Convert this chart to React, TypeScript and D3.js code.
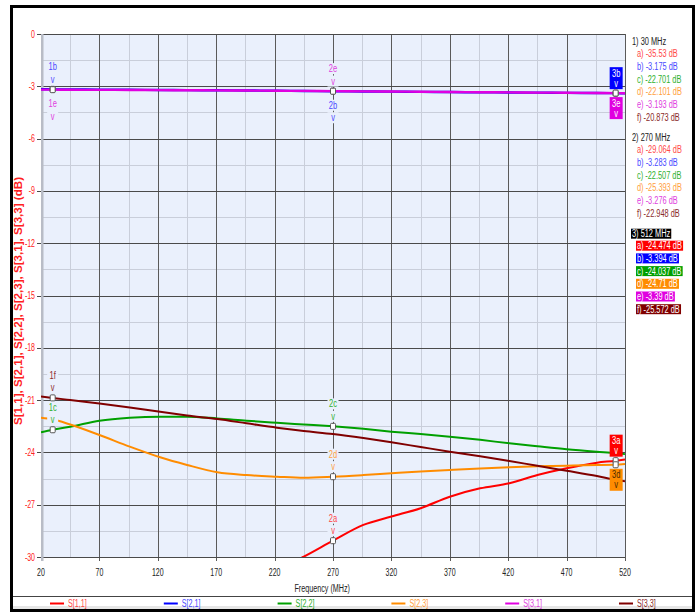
import { useEffect, useRef } from 'react';
import * as d3 from 'd3';

// frequency points (MHz)
const freqs = [20, 30, 45, 70, 96, 122, 145, 171, 196, 222, 245, 270, 296, 320, 345, 370, 396, 421, 445, 470, 496, 512, 520];

const s11 = [-36.0, -35.53, -35.0, -34.3, -33.6, -33.0, -32.4, -31.8, -31.2, -30.7, -29.98, -29.064, -28.16, -27.68, -27.2, -26.54, -26.06, -25.77, -25.3, -24.91, -24.59, -24.474, -24.4];
const s21 = [-3.17, -3.175, -3.18, -3.19, -3.2, -3.21, -3.22, -3.23, -3.24, -3.255, -3.27, -3.283, -3.295, -3.305, -3.32, -3.33, -3.345, -3.355, -3.365, -3.375, -3.386, -3.394, -3.4];
const s22 = [-22.85, -22.701, -22.53, -22.18, -22.01, -21.95, -21.95, -22.05, -22.18, -22.3, -22.4, -22.507, -22.65, -22.81, -22.95, -23.1, -23.28, -23.48, -23.65, -23.82, -23.96, -24.037, -24.1];
const s23 = [-22.01, -22.101, -22.4, -23.0, -23.67, -24.28, -24.72, -25.14, -25.3, -25.39, -25.45, -25.393, -25.3, -25.2, -25.1, -25.01, -24.92, -24.85, -24.8, -24.76, -24.72, -24.71, -24.66];
const s31 = [-3.19, -3.193, -3.2, -3.205, -3.21, -3.22, -3.225, -3.235, -3.245, -3.255, -3.265, -3.276, -3.29, -3.3, -3.31, -3.325, -3.34, -3.35, -3.36, -3.37, -3.383, -3.39, -3.395];
const s33 = [-20.8, -20.873, -21.0, -21.19, -21.42, -21.67, -21.88, -22.09, -22.33, -22.58, -22.77, -22.948, -23.18, -23.42, -23.69, -23.96, -24.22, -24.49, -24.77, -25.05, -25.35, -25.572, -25.66];

const seriesNames = ['S[1,1]', 'S[2,1]', 'S[2,2]', 'S[2,3]', 'S[3,1]', 'S[3,3]'];
const seriesKeys = ['a', 'b', 'c', 'd', 'e', 'f'];
const seriesValues = [s11, s21, s22, s23, s31, s33];

const xTicks = [20, 70, 120, 170, 220, 270, 320, 370, 420, 470, 520];
const yTicks = [0, -3, -6, -9, -12, -15, -18, -21, -24, -27, -30];

const markerFreqs = [30, 270, 512];
// which traces carry a label at each marker, and on which side
const marker1Labels = [['b', 'up'], ['e', 'down'], ['f', 'up'], ['c', 'up']];
const marker2Labels = [['e', 'up'], ['b', 'down'], ['c', 'up'], ['d', 'up'], ['a', 'up']];
const marker3Labels = [['b', 'up'], ['e', 'down'], ['a', 'up'], ['d', 'down']];

const lineColors = ['#ff0000', '#0000ff', '#00a000', '#ff8c00', '#e000e0', '#800000'];
const textColors = ['#ff4848', '#4a4aff', '#30b030', '#ffa040', '#e040e0', '#8a2a2a'];

const FONT = '"Liberation Sans", Arial, sans-serif';
const PLOT_BG = '#eaf0fc';

// squeeze text horizontally to mimic the condensed font of the original
function narrow(sel: d3.Selection<SVGTextElement, any, any, any>, ratio = 0.74) {
  sel.each(function () {
    const w = this.getComputedTextLength();
    d3.select(this).attr('textLength', w * ratio).attr('lengthAdjust', 'spacingAndGlyphs');
  });
  return sel;
}

export default function App() {
  const svgRef = useRef<SVGSVGElement>(null);

  useEffect(() => {
    if (!svgRef.current) return;
    const root = d3.select(svgRef.current);
    root.selectAll('*').remove();

    const left = 41;
    const right = 625;
    const top = 34;
    const bottom = 557;

    const x = d3.scaleLinear().domain([20, 520]).range([left, right]);
    const y = d3.scaleLinear().domain([0, -30]).range([top, bottom]);

    // frame
    root.append('rect').attr('width', 699).attr('height', 616).attr('fill', '#fff');
    root.append('rect').attr('x', 12).attr('y', 606).attr('width', 681).attr('height', 4).attr('fill', '#e6e6e6');
    root.append('line').attr('x1', 12).attr('x2', 693).attr('y1', 596.5).attr('y2', 596.5).attr('stroke', '#444');
    root
      .append('rect')
      .attr('x', 11.5)
      .attr('y', 6.5)
      .attr('width', 682)
      .attr('height', 604)
      .attr('fill', 'none')
      .attr('stroke', '#000')
      .attr('stroke-width', 3);

    // plot area
    root
      .append('rect')
      .attr('x', left)
      .attr('y', top)
      .attr('width', right - left)
      .attr('height', bottom - top)
      .attr('fill', PLOT_BG);

    const grid = root.append('g');
    grid
      .selectAll('.vminor')
      .data(d3.range(45, 520, 50))
      .join('line')
      .attr('x1', (d) => Math.round(x(d)) + 0.5)
      .attr('x2', (d) => Math.round(x(d)) + 0.5)
      .attr('y1', top)
      .attr('y2', bottom)
      .attr('stroke', '#c9ceda');
    grid
      .selectAll('.hminor')
      .data(d3.range(-1.5, -30, -3))
      .join('line')
      .attr('x1', left)
      .attr('x2', right)
      .attr('y1', (d) => Math.round(y(d)) + 0.5)
      .attr('y2', (d) => Math.round(y(d)) + 0.5)
      .attr('stroke', '#c9ceda');
    grid
      .selectAll('.vmajor')
      .data(xTicks.slice(1))
      .join('line')
      .attr('x1', (d) => Math.round(x(d)) + 0.5)
      .attr('x2', (d) => Math.round(x(d)) + 0.5)
      .attr('y1', top)
      .attr('y2', bottom + 4)
      .attr('stroke', '#5a5a5a');
    grid
      .selectAll('.hmajor')
      .data(yTicks)
      .join('line')
      .attr('x1', left - 4)
      .attr('x2', right)
      .attr('y1', (d) => Math.round(y(d)) + 0.5)
      .attr('y2', (d) => Math.round(y(d)) + 0.5)
      .attr('stroke', '#4a4a4a');
    root
      .append('rect')
      .attr('x', left)
      .attr('y', top)
      .attr('width', 2.5)
      .attr('height', bottom - top + 4)
      .attr('fill', '#b8bcc6');

    // axis labels
    narrow(
      root
        .append('g')
        .selectAll('text')
        .data(yTicks)
        .join('text')
        .attr('x', 35)
        .attr('y', (d) => y(d) + 3.5)
        .attr('text-anchor', 'end')
        .attr('font-family', FONT)
        .attr('font-size', 10)
        .attr('fill', '#ff2020')
        .text((d) => String(d)),
      0.7,
    );
    narrow(
      root
        .append('g')
        .selectAll('text')
        .data(xTicks)
        .join('text')
        .attr('x', (d) => x(d))
        .attr('y', 576)
        .attr('text-anchor', 'middle')
        .attr('font-family', FONT)
        .attr('font-size', 10)
        .attr('fill', '#222')
        .text((d) => String(d)),
      0.7,
    );
    narrow(
      root
        .append('text')
        .attr('x', 350)
        .attr('y', 592)
        .attr('text-anchor', 'end')
        .attr('font-family', FONT)
        .attr('font-size', 10)
        .attr('fill', '#222')
        .text('Frequency (MHz)'),
      0.72,
    );
    root
      .append('text')
      .attr('transform', 'translate(22, 301) rotate(-90)')
      .attr('text-anchor', 'middle')
      .attr('font-family', FONT)
      .attr('font-size', 10.5)
      .attr('font-weight', 'bold')
      .attr('fill', '#ff2020')
      .attr('textLength', 248)
      .attr('lengthAdjust', 'spacingAndGlyphs')
      .text('S[1,1], S[2,1], S[2,2], S[2,3], S[3,1], S[3,3] (dB)');

    // traces
    root
      .append('clipPath')
      .attr('id', 'plotclip')
      .append('rect')
      .attr('x', left)
      .attr('y', top)
      .attr('width', right - left)
      .attr('height', bottom - top);
    const lineGen = d3
      .line<number>()
      .x((_, i) => x(freqs[i]))
      .y((d) => y(d))
      .curve(d3.curveMonotoneX);
    const traces = root.append('g').attr('clip-path', 'url(#plotclip)');
    seriesValues.forEach((vals, i) => {
      traces
        .append('path')
        .datum(vals)
        .attr('fill', 'none')
        .attr('stroke', lineColors[i])
        .attr('stroke-width', i === 1 || i === 4 ? 2.4 : 2)
        .attr('d', lineGen);
    });

    // markers
    const valueAt = (key: string, f: number) => {
      const si = seriesKeys.indexOf(key);
      return seriesValues[si][freqs.indexOf(f)];
    };
    const labelSets = [marker1Labels, marker2Labels, marker3Labels];
    const mk = root.append('g').attr('font-family', FONT).attr('font-size', 10);
    labelSets.forEach((labels, mi) => {
      const f = markerFreqs[mi];
      const mx = x(f);
      labels.forEach(([key, side]) => {
        const si = seriesKeys.indexOf(key);
        const my = y(valueAt(key, f));
        const name = `${mi + 1}${key}`;
        if (mi < 2) {
          const cy = side === 'up' ? [my - 22.5, my - 10] : [my + 14, my + 26.5];
          [name, 'v'].forEach((t, k) => {
            mk.append('rect')
              .attr('x', mx - 5.5)
              .attr('y', cy[k] - 5.5)
              .attr('width', 11)
              .attr('height', 11)
              .attr('fill', PLOT_BG);
            narrow(
              mk.append('text')
                .attr('x', mx)
                .attr('y', cy[k] + 3.5)
                .attr('text-anchor', 'middle')
                .attr('fill', textColors[si])
                .text(t),
              0.75,
            );
          });
        } else {
          const by = side === 'up' ? my - 26 : my + 4;
          mk.append('rect')
            .attr('x', mx - 6)
            .attr('y', by)
            .attr('width', 13)
            .attr('height', 22)
            .attr('fill', lineColors[si]);
          [name, 'v'].forEach((t, k) => {
            narrow(
              mk.append('text')
                .attr('x', mx + 0.5)
                .attr('y', by + 9.5 + k * 10)
                .attr('text-anchor', 'middle')
                .attr('fill', key === 'd' ? '#4a2a00' : '#fff')
                .text(t),
              0.75,
            );
          });
        }
      });
      labels.forEach(([key]) => {
        const my = y(valueAt(key, f));
        mk.append('rect')
          .attr('x', mx - 2.5)
          .attr('y', my - 3)
          .attr('width', 5)
          .attr('height', 6)
          .attr('rx', 1)
          .attr('fill', '#fff')
          .attr('stroke', '#555')
          .attr('stroke-width', 1);
      });
    });

    // readout panel
    const panel = root.append('g').attr('font-family', FONT).attr('font-size', 10);
    markerFreqs.forEach((f, mi) => {
      const gy = 41.7 + mi * 96;
      const head = narrow(
        panel
          .append('text')
          .attr('x', 632)
          .attr('y', gy + 3.5)
          .attr('fill', mi === 2 ? '#fff' : '#222')
          .text(`${mi + 1}) ${f} MHz`),
        0.74,
      );
      if (mi === 2) {
        const bb = (head.node() as SVGTextElement).getBBox();
        panel
          .insert('rect', 'text')
          .attr('x', bb.x - 1)
          .attr('y', gy - 5)
          .attr('width', bb.width + 2)
          .attr('height', 10)
          .attr('fill', '#000');
      }
      seriesKeys.forEach((key, si) => {
        const ty = gy + 12 + si * 12.7;
        const t = narrow(
          panel
            .append('text')
            .attr('x', 637)
            .attr('y', ty + 3.5)
            .attr('fill', mi === 2 ? '#fff' : textColors[si])
            .text(`${key}) ${valueAt(key, f)} dB`),
          0.74,
        );
        if (mi === 2) {
          const bb = (t.node() as SVGTextElement).getBBox();
          panel
            .insert('rect', 'text')
            .attr('x', bb.x - 1)
            .attr('y', ty - 5)
            .attr('width', bb.width + 2)
            .attr('height', 10)
            .attr('fill', lineColors[si]);
        }
      });
    });

    // legend
    const legend = root.append('g').attr('font-family', FONT).attr('font-size', 10);
    seriesNames.forEach((name, i) => {
      const lx = 50 + i * 113.8;
      legend
        .append('line')
        .attr('x1', lx)
        .attr('x2', lx + 14)
        .attr('y1', 603.5)
        .attr('y2', 603.5)
        .attr('stroke', lineColors[i])
        .attr('stroke-width', 2);
      narrow(
        legend
          .append('text')
          .attr('x', lx + 18)
          .attr('y', 607)
          .attr('fill', textColors[i])
          .text(name),
        0.72,
      );
    });
  }, []);

  return (
    <svg
      ref={svgRef}
      width={699}
      height={616}
      style={{ position: 'absolute', left: 0, top: 0, display: 'block' }}
    />
  );
}
